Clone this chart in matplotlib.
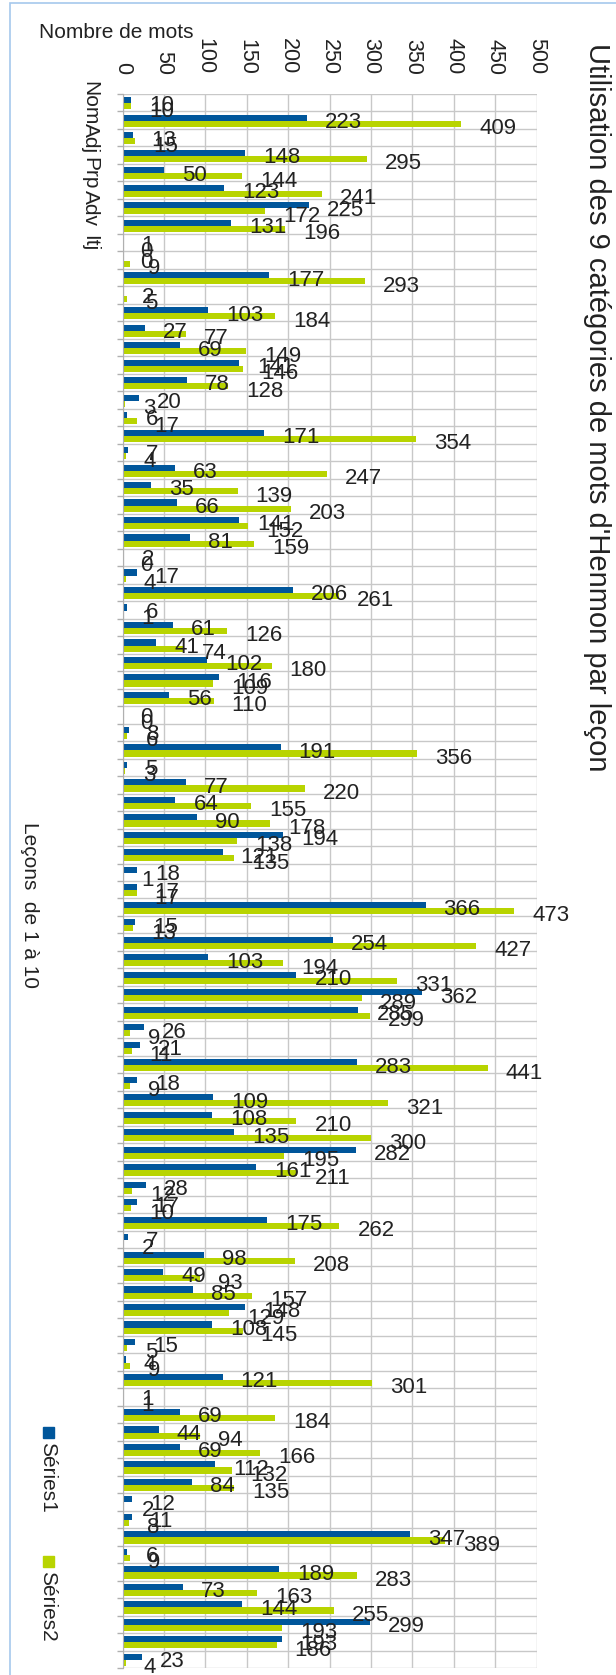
import numpy as np
import matplotlib
matplotlib.use("Agg")
import matplotlib.pyplot as plt
from matplotlib.patches import Rectangle

plt.rcParams['font.family'] = ['Liberation Sans', 'DejaVu Sans']

# 9 catégories x 10 leçons, dans l'ordre des lignes du graphique
serie1 = [10, 223, 13, 148, 50, 123, 225, 131, 1,
          0, 177, 2, 103, 27, 69, 141, 78, 20,
          6, 171, 7, 63, 35, 66, 141, 81, 2,
          17, 206, 6, 61, 41, 102, 116, 56, 0,
          8, 191, 5, 77, 64, 90, 194, 121, 18,
          17, 366, 15, 254, 103, 210, 362, 285, 26,
          21, 283, 18, 109, 108, 135, 282, 161, 28,
          17, 175, 7, 98, 49, 85, 148, 108, 15,
          4, 121, 1, 69, 44, 69, 112, 84, 12,
          11, 347, 6, 189, 73, 144, 299, 193, 23]
serie2 = [10, 409, 15, 295, 144, 241, 172, 196, 0,
          9, 293, 5, 184, 77, 149, 146, 128, 3,
          17, 354, 4, 247, 139, 203, 152, 159, 0,
          4, 261, 1, 126, 74, 180, 109, 110, 0,
          6, 356, 3, 220, 155, 178, 138, 135, 1,
          17, 473, 13, 427, 194, 331, 289, 299, 9,
          11, 441, 9, 321, 210, 300, 195, 211, 12,
          10, 262, 2, 208, 93, 157, 129, 145, 5,
          9, 301, 1, 184, 94, 166, 132, 135, 2,
          8, 389, 9, 283, 163, 255, 193, 186, 4]
categories = ["Nom", "", "Adj", "", "Prp", "", "Adv", "", "Itj"] + [""] * 81
xticks = [0, 50, 100, 150, 200, 250, 300, 350, 400, 450, 500]

W, H = 616, 1675
BLUE = '#00569b'
GREEN = '#b8d400'
TXT = '#222222'

fig = plt.figure(figsize=(W / 100, H / 100), dpi=100)
ax = fig.add_axes([122.5 / W, 1 - 1668 / H, 414 / W, 1574 / H])

y = np.arange(len(serie1))
ax.barh(y - 0.14, serie1, height=0.35, color=BLUE, zorder=2)
ax.barh(y + 0.21, serie2, height=0.35, color=GREEN, zorder=2)

# étiquettes de valeurs
for i in range(len(y)):
    ax.annotate(str(serie1[i]), xy=(serie1[i], y[i] - 0.14), xytext=(13, -3.5),
                textcoords='offset points', ha='left', va='center',
                fontsize=16, color=TXT, zorder=3)
    ax.annotate(str(serie2[i]), xy=(serie2[i], y[i] + 0.21), xytext=(13, -3.5),
                textcoords='offset points', ha='left', va='center',
                fontsize=16, color=TXT, zorder=3)

ax.set_xlim(0, 500)
ax.set_ylim(len(y) - 0.5, -0.5)

ax.xaxis.tick_top()
ax.set_xticks(xticks)
ax.set_xticklabels([str(t) for t in xticks], rotation=270, fontsize=15.5, color=TXT)
ax.tick_params(axis='x', length=0, pad=14)

ax.set_yticks(y)
ax.set_yticklabels(categories, rotation=270, fontsize=15, color=TXT, va='center')
ax.set_yticks(np.arange(-0.5, len(y), 1), minor=True)
ax.tick_params(axis='y', which='major', length=0, pad=16.5)
ax.tick_params(axis='y', which='minor', length=4.5, color='#b0b0b0', width=1)

ax.grid(axis='x', color='#c8c8c8', linewidth=1.0, zorder=0)
ax.grid(axis='y', which='minor', color='#c8c8c8', linewidth=1.0, zorder=0)
ax.set_axisbelow(True)
for s in ['top', 'right', 'bottom']:
    ax.spines[s].set_visible(False)
ax.spines['left'].set_color('#b0b0b0')

# textes autour
fig.text(597 / W, 1 - 43 / H, "Utilisation des 9 catégories de mots d'Henmon par leçon",
         rotation=270, ha='center', va='top', fontsize=21, color=TXT)
fig.text(39 / W, 1 - 33 / H, "Nombre de mots", ha='left', va='center', fontsize=15, color=TXT)
fig.text(29 / W, 1 - 905 / H, "Leçons  de 1 à 10", rotation=270, ha='center', va='center',
         fontsize=15, color=TXT)

# légende
fig.add_artist(Rectangle((43 / W, 1 - 1438 / H), 11 / W, 11 / H, transform=fig.transFigure,
                         color=BLUE))
fig.text(48 / W, 1 - 1442 / H, "Séries1", rotation=270, ha='center', va='top', fontsize=15, color=TXT)
fig.add_artist(Rectangle((43 / W, 1 - 1567 / H), 11 / W, 11 / H, transform=fig.transFigure,
                         color=GREEN))
fig.text(48 / W, 1 - 1571 / H, "Séries2", rotation=270, ha='center', va='top', fontsize=15, color=TXT)

# cadre
fig.add_artist(Rectangle((10 / W, -0.1), 2, 1.1 - 3 / H, transform=fig.transFigure,
                         fill=False, ec='#a6c8ec', lw=1.2))

fig.savefig('out.png', dpi=100)
